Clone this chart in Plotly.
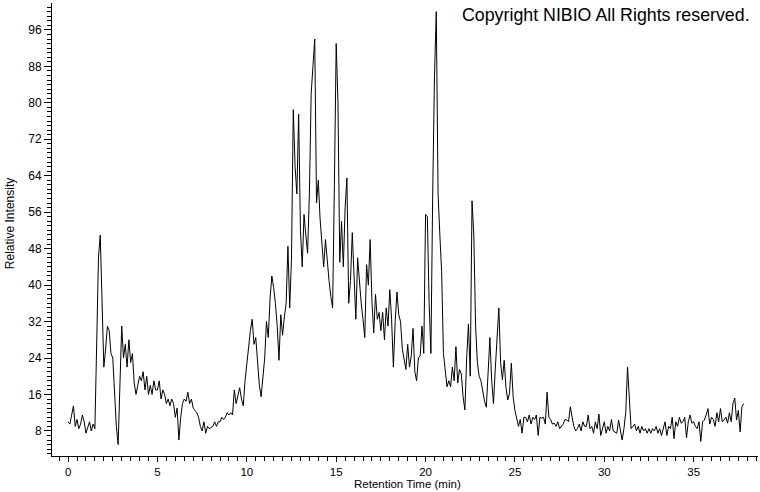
import plotly.graph_objects as go

# Retention time grid (min), step 0.1
t_start = 0.0
t_step = 0.1

# Relative intensity values, one per 0.1 min
intensity = [
    # 0.0 - 1.5
    10, 9.5, 11.5, 13.5, 9, 10.5, 8.5, 9.5, 11.5, 10, 7.5, 9, 10, 8, 9.5, 8.5,
    # 1.6 - 2.9
    24, 46, 51, 34, 22, 26, 31, 30, 25, 24, 16, 9, 5, 18,
    # 3.0 - 4.9
    31, 24, 27, 22, 28, 23, 25, 18.5, 16, 18, 20, 19, 21, 17, 20, 16, 18, 16, 19, 17,
    # 5.0 - 6.9
    17, 19, 15, 17, 16, 14, 15, 13.5, 15, 14, 11, 13, 6, 11, 14, 15, 14.5, 16.5, 14, 15,
    # 7.0 - 8.9
    13, 12.5, 12, 11, 9, 8, 10, 7.5, 9, 8.5, 8.7, 9, 10, 9, 10, 10, 11, 10.5, 11, 12,
    # 9.0 - 9.5
    11.5, 12, 11.5, 17, 14, 16,
    # 9.6 - 10.9
    17.5, 15, 13.5, 19, 23, 26, 30, 32.5, 27, 28.5, 22, 18, 15.5, 20,
    # 11.0 - 12.9
    24, 32, 28.5, 37, 42, 39.5, 36, 31, 23.5, 33.5, 29, 33, 36, 48.5, 35, 46, 78.5, 66, 60, 77.5,
    # 13.0 - 14.9
    52, 44, 55.5, 51, 47, 60, 82, 88, 94, 58, 63, 54.5, 50, 44, 50, 44.5, 41, 37.5, 35, 62,
    # 15.0 - 16.9
    93, 80, 45, 54, 44, 57, 63.5, 36, 41, 51.5, 42.5, 32.5, 46, 40, 36, 32.5, 28.5, 44.5, 40, 50,
    # 17.0 - 18.9
    36.5, 29.5, 38, 32.5, 34, 30, 34, 28, 35, 31, 39, 32.5, 22, 32, 38.5, 33.5, 32, 26, 24, 21.5,
    # 19.0 - 20.9
    27, 22, 24.5, 30.5, 21, 19, 24, 24.5, 31, 25, 55.5, 55, 36, 25, 60, 86, 100, 60, 51, 43,
    # 21.0 - 22.9
    25, 20.5, 17.7, 19, 17.7, 22, 19, 26.5, 18.5, 21.5, 20.5, 15.5, 12.6, 24, 31.5, 20, 58.5, 51, 31, 23,
    # 23.0 - 24.9
    20, 19, 16.5, 14.5, 13.2, 21, 28.5, 19, 14, 21.5, 28, 35, 23, 19.2, 23.5, 17.5, 14.8, 16.3, 22.9, 15.5,
    # 25.0 - 26.9
    12.5, 11, 9, 10.5, 7.5, 11, 11, 10, 11.5, 9.5, 11, 10.5, 11.5, 7, 11, 10.8, 11, 9.5, 16.5, 11,
    # 27.0 - 28.9
    10.5, 9.5, 9.7, 9, 10, 8.5, 9, 9.5, 10.5, 10.4, 10, 13.3, 11, 9, 8, 8.5, 9.5, 8, 10, 9,
    # 29.0 - 30.9
    9, 11.5, 8.5, 9, 7.5, 10, 8.5, 11.7, 7, 8.5, 10, 7.5, 9, 8, 10.5, 8, 7.8, 7.5, 10.4, 8.5,
    # 31.0 - 32.9
    6, 8.5, 12, 22, 14.6, 8.5, 9, 9.5, 8, 9, 7.5, 9, 8, 8.5, 7.5, 8.5, 7.5, 8.5, 8, 9,
    # 33.0 - 34.9
    7.5, 8.5, 7, 8.5, 10, 7, 9, 8.5, 11, 6.3, 10, 9, 11, 9.7, 10, 11, 6.5, 10, 11.5, 9.7,
    # 35.0 - 36.9
    10, 9, 8.5, 10, 5.7, 10, 10.4, 11.5, 12.9, 9.5, 11, 10.5, 9, 12, 10, 12.9, 10, 10.4, 11, 9.7,
    # 37.0 - 37.8
    12, 10, 14, 15.2, 10.4, 12.5, 7.8, 13.3, 14,
]

retention_time = [round(t_start + i * t_step, 2) for i in range(len(intensity))]

x_tick_vals = [0, 5, 10, 15, 20, 25, 30, 35]
y_tick_vals = [8, 16, 24, 32, 40, 48, 56, 64, 72, 80, 88, 96]

x_title = "Retention Time (min)"
y_title = "Relative Intensity"
copyright_text = "Copyright NIBIO All Rights reserved."

FONT = "Liberation Sans, Arial, sans-serif"

fig = go.Figure()
fig.add_trace(go.Scatter(
    x=retention_time, y=intensity, mode="lines",
    line=dict(color="black", width=1), hoverinfo="skip", showlegend=False,
))

fig.update_layout(
    width=760, height=492,
    margin=dict(l=52, r=2, t=3, b=36, autoexpand=False),
    paper_bgcolor="white", plot_bgcolor="white",
    font=dict(family=FONT, size=12, color="black"),
    xaxis=dict(
        range=[-0.9, 38.6], tickvals=x_tick_vals, ticks="outside", ticklen=5,
        tickcolor="black", showline=True, linecolor="black", linewidth=1,
        showgrid=False, zeroline=False, automargin=False,
        minor=dict(dtick=0.5, ticks="outside", ticklen=4, tickcolor="black"),
        tickfont=dict(size=11.5),
    ),
    yaxis=dict(
        range=[2.5, 101.9], tickvals=y_tick_vals, ticks="outside", ticklen=7,
        tickcolor="black", showline=True, linecolor="black", linewidth=1,
        showgrid=False, zeroline=False, automargin=False,
        minor=dict(dtick=1, tick0=0, ticks="outside", ticklen=4, tickcolor="black"),
        tickfont=dict(size=12),
    ),
)

fig.add_annotation(
    text=x_title, xref="paper", yref="paper",
    x=0.503, y=-0.0795, xanchor="center", yanchor="bottom",
    showarrow=False, font=dict(family=FONT, size=11.5, color="black"),
)
fig.add_annotation(
    text=y_title, xref="paper", yref="paper", textangle=-90,
    x=-0.0595, y=0.514, xanchor="center", yanchor="middle",
    showarrow=False, font=dict(family=FONT, size=12, color="black"),
)
fig.add_annotation(
    text=copyright_text, xref="paper", yref="paper",
    x=0.9915, y=1.0, xanchor="right", yanchor="top",
    showarrow=False, font=dict(family=FONT, size=17.8, color="black"),
)

fig.write_html(
    "out.html",
    config={"displayModeBar": False},
    post_script="document.body.style.margin='0';document.body.style.padding='0';",
)
